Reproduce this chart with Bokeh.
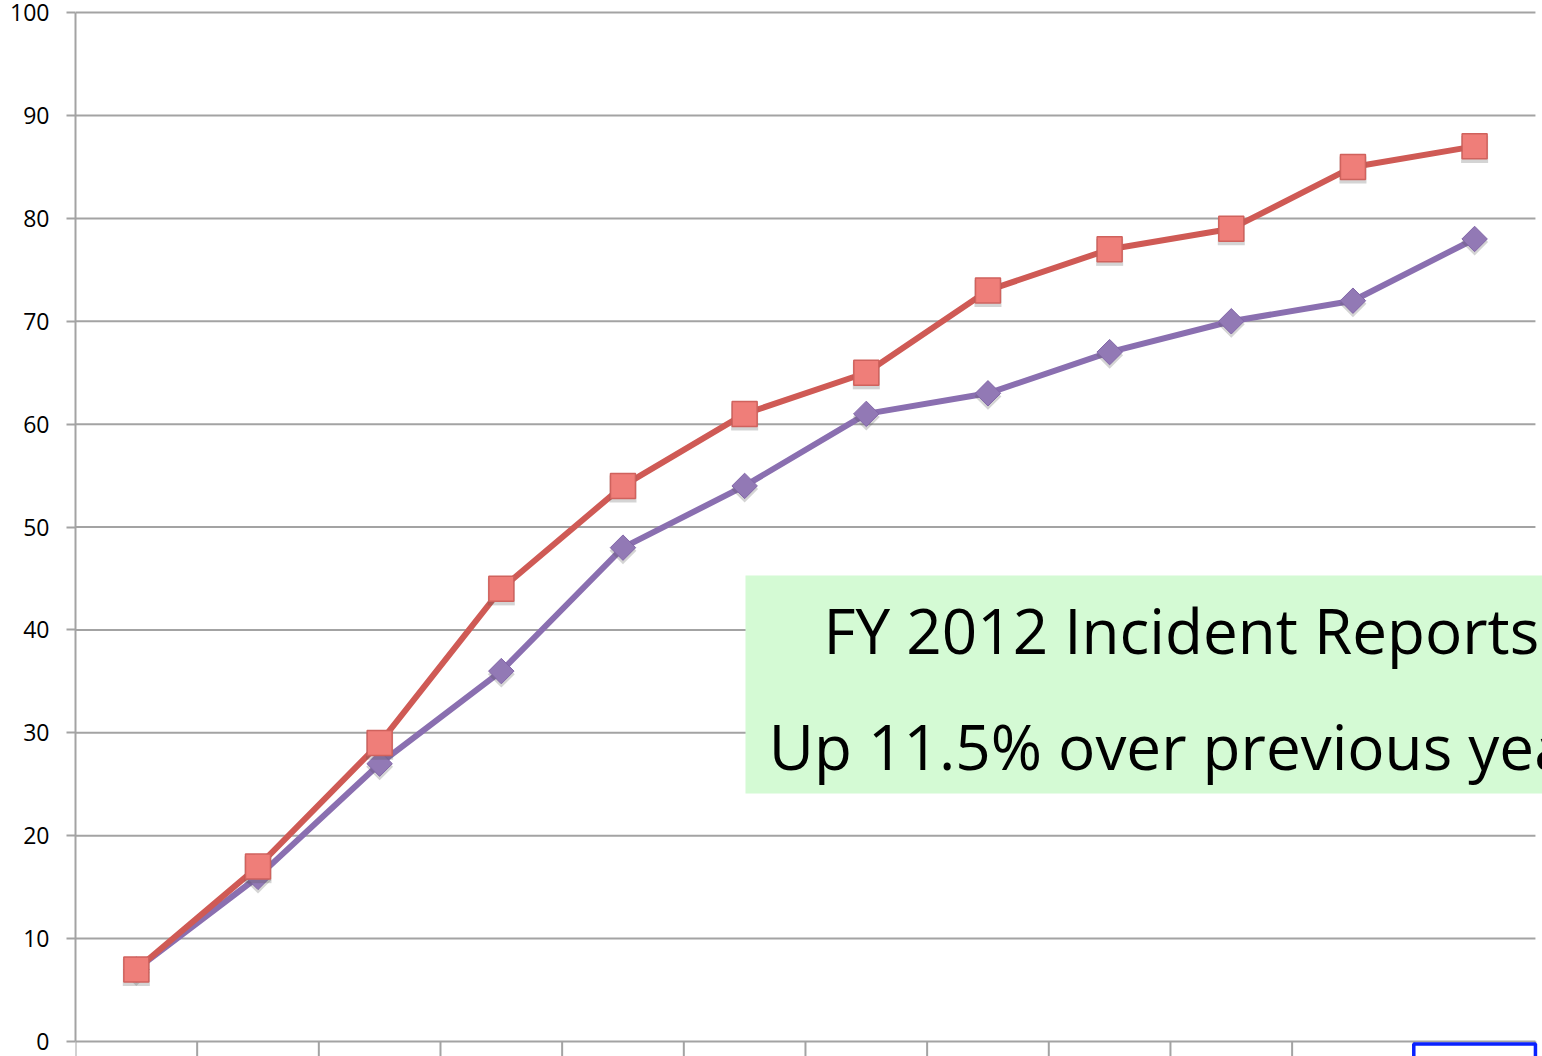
from bokeh.plotting import figure
from bokeh.models import Range1d, FixedTicker, BoxAnnotation, Label
from bokeh.embed import file_html
from bokeh.resources import INLINE
import numpy as np

# ---- data ----
months = list(range(12))
fy2012 = [7, 17, 29, 44, 54, 61, 65, 73, 77, 79, 85, 87]
fy2011 = [7, 16, 27, 36, 48, 54, 61, 63, 67, 70, 72, 78]
y_ticks = [0, 10, 20, 30, 40, 50, 60, 70, 80, 90, 100]
x_ticks = list(range(13))
note_lines = ["FY 2012 Incident Reports", "Up 11.5% over previous year"]
selected_month = 11

xs = [m + 0.5 for m in months]

GRID = "#a3a3a3"
RED = "#cf5a55"
PURPLE = "#8a6fb0"
Y_BOTTOM = -1.458
Y_TOP = 100.4
SHADOW = 0.3  # drop-shadow shift (data units, ~3px)

p = figure(width=1542, height=1056, output_backend="svg", toolbar_location=None,
           x_range=Range1d(0, 12.058), y_range=Range1d(Y_BOTTOM, Y_TOP),
           min_border_left=75, min_border_right=0, min_border_top=8,
           min_border_bottom=0)
p.extra_y_ranges = {"shadow": Range1d(Y_BOTTOM + SHADOW, Y_TOP + SHADOW)}
p.outline_line_color = None
p.xgrid.visible = False
p.ygrid.visible = False
p.xaxis.visible = False
p.background_fill_color = "white"
p.border_fill_color = "white"

# horizontal gridlines spanning the category axis
for yt in y_ticks[1:]:
    p.segment(x0=x_ticks[0], x1=x_ticks[-1], y0=yt, y1=yt, line_color=GRID, line_width=2)

# category axis: baseline and boundary ticks (labels fall below the visible area)
p.segment(x0=x_ticks[0], x1=x_ticks[-1], y0=0, y1=0, line_color=GRID, line_width=2)
p.segment(x0=x_ticks, x1=x_ticks, y0=[0] * len(x_ticks), y1=[Y_BOTTOM] * len(x_ticks),
          line_color=GRID, line_width=2)

# y axis
ya = p.yaxis[0]
ya.ticker = FixedTicker(ticks=y_ticks)
ya.bounds = (0, 100)
ya.axis_line_color = GRID
ya.axis_line_width = 2
ya.major_tick_line_color = GRID
ya.major_tick_line_width = 2
ya.major_tick_out = 9
ya.major_tick_in = 0
ya.minor_tick_line_color = None
ya.major_label_text_font = "Open Sans"
ya.major_label_text_font_size = "23px"
ya.major_label_text_color = "#000000"
ya.major_label_standoff = 17

# series: previous year (purple diamonds)
p.line(xs, fy2011, line_color=PURPLE, line_width=6)
p.scatter(xs, fy2011, marker="square", angle=np.pi / 4, size=19, y_range_name="shadow",
          fill_color="#555555", fill_alpha=0.25, line_color=None)
p.scatter(xs, fy2011, marker="square", angle=np.pi / 4, size=18,
          fill_color="#9279b5", line_color="#8266a8", line_width=1)

# series: FY2012 (red squares)
p.line(xs, fy2012, line_color=RED, line_width=6)
p.scatter(xs, fy2012, marker="square", size=27, y_range_name="shadow",
          fill_color="#555555", fill_alpha=0.25, line_color=None)
p.scatter(xs, fy2012, marker="square", size=25,
          fill_color="#ef7e79", line_color="#d0625d", line_width=1.5)

# selected category label outline (bottom right)
p.quad(left=[selected_month], right=[selected_month + 1], top=[-0.25], bottom=[Y_BOTTOM - 2],
       fill_color=None, line_color="#0a22ff", line_width=3.5)

# note box
box = BoxAnnotation(left=5.507, bottom=24.1, top=45.3,
                    fill_color="#d4fad4", fill_alpha=1.0, line_color=None)
p.add_layout(box)

for txt, yy in zip(note_lines, [40.0, 28.7]):
    p.add_layout(Label(x=9.09, y=yy, text=txt, text_align="center",
                       text_baseline="alphabetic", text_font="Open Sans",
                       text_font_size="62px", text_color="#000000"))

open("out.html", "w").write(file_html(p, INLINE))
